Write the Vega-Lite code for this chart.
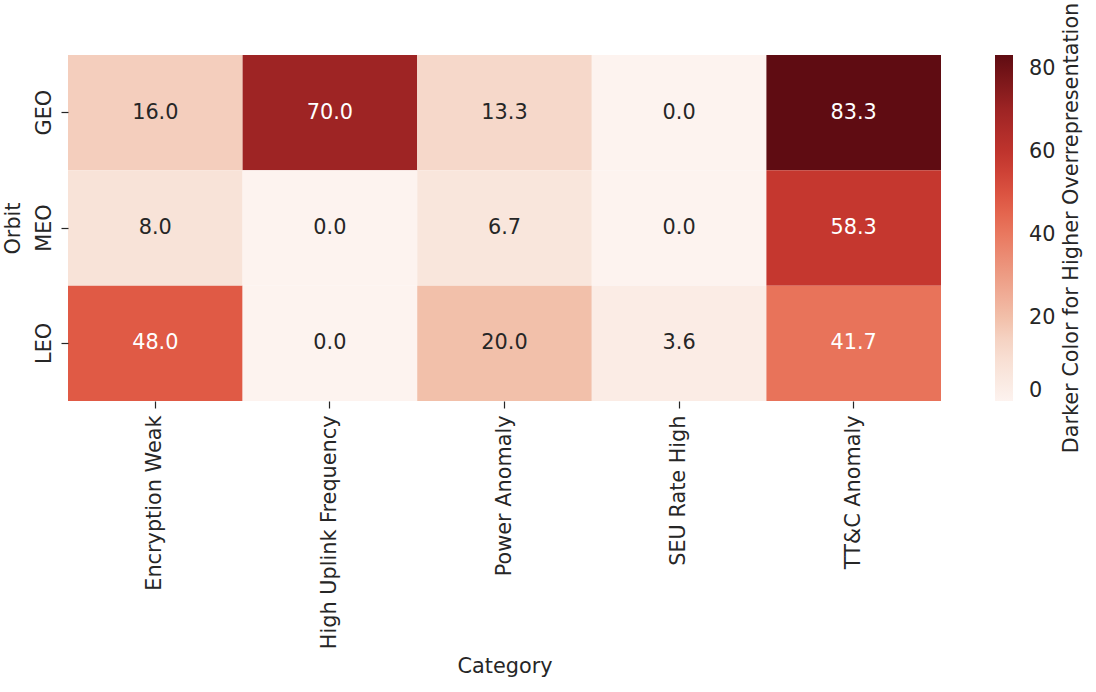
{
  "$schema": "https://vega.github.io/schema/vega-lite/v6.json",
  "autosize": {"type": "none"},
  "padding": {"left": 68, "top": 55, "right": 155, "bottom": 291},
  "width": 873,
  "height": 346,
  "background": "white",
  "config": {
    "font": "DejaVu Sans",
    "view": {"stroke": null},
    "axis": {"labelFont": "DejaVu Sans", "titleFont": "DejaVu Sans", "labelFontSize": 20.8, "titleFontSize": 20.8, "labelColor": "#262626", "titleColor": "#262626", "titleFontWeight": "normal", "tickColor": "#262626", "tickSize": 7, "tickWidth": 1.2, "domain": false, "grid": false, "labelLimit": 400}
  },
  "data": {
    "values": [
      {"Orbit": "GEO", "Category": "Encryption Weak", "value": 16.0},
      {"Orbit": "GEO", "Category": "High Uplink Frequency", "value": 70.0},
      {"Orbit": "GEO", "Category": "Power Anomaly", "value": 13.3},
      {"Orbit": "GEO", "Category": "SEU Rate High", "value": 0.0},
      {"Orbit": "GEO", "Category": "TT&C Anomaly", "value": 83.3},
      {"Orbit": "MEO", "Category": "Encryption Weak", "value": 8.0},
      {"Orbit": "MEO", "Category": "High Uplink Frequency", "value": 0.0},
      {"Orbit": "MEO", "Category": "Power Anomaly", "value": 6.7},
      {"Orbit": "MEO", "Category": "SEU Rate High", "value": 0.0},
      {"Orbit": "MEO", "Category": "TT&C Anomaly", "value": 58.3},
      {"Orbit": "LEO", "Category": "Encryption Weak", "value": 48.0},
      {"Orbit": "LEO", "Category": "High Uplink Frequency", "value": 0.0},
      {"Orbit": "LEO", "Category": "Power Anomaly", "value": 20.0},
      {"Orbit": "LEO", "Category": "SEU Rate High", "value": 3.6},
      {"Orbit": "LEO", "Category": "TT&C Anomaly", "value": 41.7}
    ]
  },
  "encoding": {
    "x": {"field": "Category", "type": "nominal", "sort": ["Encryption Weak", "High Uplink Frequency", "Power Anomaly", "SEU Rate High", "TT&C Anomaly"], "scale": {"paddingInner": 0, "paddingOuter": 0}, "axis": {"labelAngle": -90, "labelPadding": 7, "titlePadding": 55, "title": "Category"}},
    "y": {"field": "Orbit", "type": "nominal", "sort": ["GEO", "MEO", "LEO"], "scale": {"paddingInner": 0, "paddingOuter": 0}, "axis": {"labelAngle": -90, "labelPadding": 7, "titlePadding": 10, "title": "Orbit"}}
  },
  "layer": [
    {
      "mark": {"type": "rect"},
      "encoding": {
        "color": {"field": "value", "type": "quantitative",
          "scale": {"domain": [0, 6.7, 13.3, 20, 41.7, 48, 58.3, 70, 83.3], "range": ["#fdf3ef", "#f9e6dc", "#f6d8ca", "#f2c0aa", "#e8735a", "#e05a45", "#c5372f", "#9e2424", "#5f0c12"], "interpolate": "rgb"},
          "legend": {"orient": "none", "legendX": 927, "legendY": 0, "direction": "vertical", "gradientLength": 346, "gradientThickness": 18, "values": [0, 20, 40, 60, 80], "labelFontSize": 20.8, "labelColor": "#262626", "labelFont": "DejaVu Sans", "labelOffset": 16, "title": "Darker Color for Higher Overrepresentation", "titleOrient": "right", "titleFontSize": 20.8, "titleFontWeight": "normal", "titleColor": "#262626", "titleFont": "DejaVu Sans", "titleAnchor": "middle", "titlePadding": 27, "titleLimit": 600, "gradientStrokeWidth": 0,
            "encode": {"title": {"update": {"angle": {"value": -90}}}}}}
      }
    },
    {
      "mark": {"type": "text", "fontSize": 20.8, "font": "DejaVu Sans"},
      "encoding": {
        "text": {"field": "value", "type": "quantitative", "format": ".1f"},
        "color": {"condition": {"test": "datum.value > 35", "value": "white"}, "value": "#262626"}
      }
    }
  ]
}
